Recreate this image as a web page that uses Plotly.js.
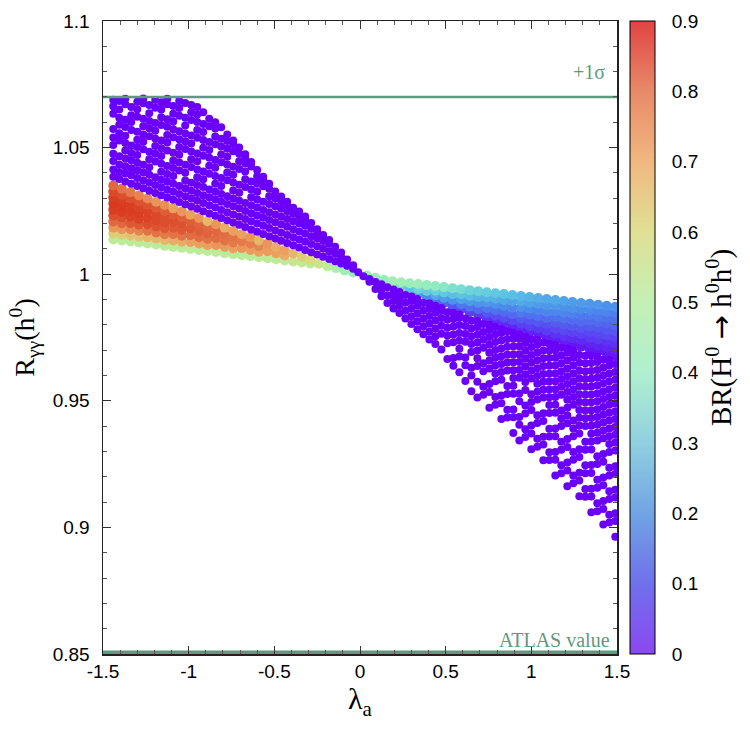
<!DOCTYPE html>
<html><head><meta charset="utf-8">
<script src="https://cdn.plot.ly/plotly-3.0.1.min.js"></script>
<style>html,body{margin:0;padding:0;background:#fff}#chart{width:750px;height:733px}</style>
</head><body><div id="chart"></div>
<script>
// ---------- axis ticks ----------
const xTickVals = [-1.5, -1, -0.5, 0, 0.5, 1, 1.5];
const xTickText = ['-1.5', '-1', '-0.5', '0', '0.5', '1', '1.5'];
const yTickVals = [0.85, 0.9, 0.95, 1, 1.05, 1.1];
const yTickText = ['0.85', '0.9', '0.95', '1', '1.05', '1.1'];
const cbTickVals = [0, 0.1, 0.2, 0.3, 0.4, 0.5, 0.6, 0.7, 0.8, 0.9];
const cbTickText = ['0', '0.1', '0.2', '0.3', '0.4', '0.5', '0.6', '0.7', '0.8', '0.9'];

// ---------- reference lines ----------
const refLevels = [1.07, 0.8506];
const refLabels = ['+1σ', 'ATLAS value'];

// ---------- coloured band, λa < 0 : [λa, [Rγγ...], [BR...]] ----------
const bandLeft = [
 [-1.44,[1.0137,1.0161,1.0184,1.0208,1.0232,1.0255,1.0279,1.0303,1.0326,1.0350],[0.52,0.62,0.72,0.8,0.85,0.88,0.89,0.88,0.86,0.8]],
 [-1.39,[1.0133,1.0156,1.0178,1.0201,1.0224,1.0246,1.0269,1.0292,1.0314,1.0337],[0.52,0.62,0.72,0.8,0.85,0.88,0.89,0.88,0.85,0.78]],
 [-1.34,[1.0129,1.0153,1.0178,1.0202,1.0227,1.0251,1.0275,1.0300,1.0324],[0.52,0.64,0.75,0.83,0.87,0.88,0.88,0.85,0.77]],
 [-1.29,[1.0125,1.0148,1.0172,1.0195,1.0218,1.0241,1.0265,1.0288,1.0311],[0.52,0.64,0.75,0.83,0.87,0.88,0.87,0.84,0.75]],
 [-1.24,[1.0121,1.0146,1.0172,1.0197,1.0222,1.0248,1.0273,1.0299],[0.52,0.66,0.78,0.85,0.87,0.87,0.84,0.74]],
 [-1.19,[1.0117,1.0141,1.0165,1.0189,1.0213,1.0238,1.0262,1.0286],[0.52,0.66,0.78,0.84,0.86,0.86,0.83,0.72]],
 [-1.14,[1.0112,1.0135,1.0158,1.0181,1.0204,1.0227,1.0250,1.0273],[0.52,0.66,0.77,0.83,0.85,0.85,0.82,0.73]],
 [-1.09,[1.0108,1.0133,1.0159,1.0184,1.0209,1.0235,1.0260],[0.52,0.68,0.78,0.83,0.85,0.83,0.7]],
 [-1.04,[1.0104,1.0128,1.0152,1.0176,1.0200,1.0224,1.0248],[0.52,0.68,0.78,0.83,0.84,0.82,0.72]],
 [-0.99,[1.0100,1.0127,1.0154,1.0181,1.0208,1.0235],[0.52,0.7,0.79,0.83,0.82,0.7]],
 [-0.94,[1.0096,1.0121,1.0146,1.0172,1.0197,1.0222],[0.52,0.7,0.79,0.82,0.81,0.72]],
 [-0.89,[1.0092,1.0115,1.0139,1.0162,1.0186,1.0209],[0.52,0.7,0.78,0.81,0.8,0.66]],
 [-0.84,[1.0088,1.0115,1.0142,1.0170,1.0197],[0.52,0.72,0.79,0.8,0.72]],
 [-0.79,[1.0083,1.0108,1.0133,1.0159,1.0184],[0.52,0.71,0.78,0.79,0.68]],
 [-0.74,[1.0079,1.0102,1.0125,1.0148,1.0171],[0.52,0.7,0.77,0.78,0.7]],
 [-0.69,[1.0075,1.0103,1.0130,1.0158],[0.52,0.72,0.77,0.7]],
 [-0.64,[1.0071,1.0096,1.0121,1.0146],[0.52,0.71,0.76,0.72]],
 [-0.59,[1.0067,1.0089,1.0111,1.0133],[0.52,0.7,0.75,0.66]],
 [-0.54,[1.0063,1.0091,1.0120],[0.53,0.71,0.72]],
 [-0.49,[1.0059,1.0083,1.0107],[0.52,0.7,0.68]],
 [-0.44,[1.0054,1.0074,1.0095],[0.52,0.68,0.7]],
 [-0.39,[1.0050,1.0082],[0.55,0.66]],
 [-0.34,[1.0046,1.0069],[0.53,0.62]],
 [-0.29,[1.0042,1.0056],[0.52,0.6]],
 [-0.24,[1.0041],[0.55]],
 [-0.19,[1.0032],[0.52]],
 [-0.14,[1.0024],[0.48]],
 [-0.09,[1.0015],[0.45]],
 [-0.04,[1.0007],[0.42]]
];

// ---------- coloured band, λa > 0 ----------
const bandRight = [
 [0.04,[0.9995],[0.42]],
 [0.09,[0.9986],[0.43]],
 [0.14,[0.9977],[0.42]],
 [0.19,[0.9965,0.9972],[0.36,0.45]],
 [0.24,[0.9951,0.9968],[0.33,0.45]],
 [0.29,[0.9937,0.9964],[0.3,0.44]],
 [0.34,[0.9924,0.9942,0.9961],[0.24,0.34,0.44]],
 [0.39,[0.9911,0.9934,0.9957],[0.2,0.32,0.42]],
 [0.44,[0.9899,0.9917,0.9935,0.9953],[0.16,0.25,0.33,0.41]],
 [0.49,[0.9886,0.9907,0.9928,0.9949],[0.14,0.23,0.31,0.39]],
 [0.54,[0.9874,0.9898,0.9921,0.9945],[0.12,0.21,0.29,0.37]],
 [0.59,[0.9862,0.9881,0.9901,0.9921,0.9941],[0.1,0.17,0.24,0.3,0.36]],
 [0.64,[0.9850,0.9872,0.9894,0.9915,0.9937],[0.09,0.16,0.23,0.29,0.34]],
 [0.69,[0.9838,0.9862,0.9886,0.9909,0.9933],[0.08,0.15,0.21,0.27,0.33]],
 [0.74,[0.9826,0.9847,0.9867,0.9888,0.9908,0.9929],[0.07,0.12,0.17,0.22,0.27,0.32]],
 [0.79,[0.9815,0.9837,0.9859,0.9881,0.9903,0.9925],[0.06,0.11,0.16,0.21,0.26,0.31]],
 [0.84,[0.9804,0.9828,0.9851,0.9875,0.9898,0.9922],[0.06,0.11,0.15,0.2,0.25,0.3]],
 [0.89,[0.9793,0.9818,0.9843,0.9868,0.9893,0.9918],[0.05,0.1,0.15,0.19,0.24,0.29]],
 [0.94,[0.9783,0.9804,0.9826,0.9848,0.9870,0.9892,0.9914],[0.05,0.09,0.13,0.17,0.21,0.25,0.28]],
 [0.99,[0.9772,0.9795,0.9818,0.9841,0.9864,0.9887,0.9910],[0.05,0.09,0.12,0.16,0.2,0.24,0.27]],
 [1.04,[0.9762,0.9786,0.9810,0.9834,0.9858,0.9882,0.9906],[0.04,0.08,0.12,0.16,0.19,0.23,0.26]],
 [1.09,[0.9752,0.9777,0.9802,0.9827,0.9852,0.9877,0.9902],[0.04,0.08,0.11,0.15,0.19,0.22,0.25]],
 [1.14,[0.9742,0.9764,0.9786,0.9809,0.9831,0.9853,0.9876,0.9898],[0.04,0.07,0.1,0.13,0.16,0.19,0.22,0.25]],
 [1.19,[0.9732,0.9755,0.9778,0.9801,0.9825,0.9848,0.9871,0.9894],[0.04,0.07,0.1,0.13,0.16,0.19,0.21,0.24]],
 [1.24,[0.9723,0.9747,0.9771,0.9795,0.9819,0.9843,0.9866,0.9890],[0.03,0.06,0.09,0.12,0.15,0.18,0.21,0.23]],
 [1.29,[0.9714,0.9739,0.9763,0.9788,0.9812,0.9837,0.9862,0.9886],[0.03,0.06,0.09,0.12,0.15,0.17,0.2,0.23]],
 [1.34,[0.9705,0.9727,0.9749,0.9772,0.9794,0.9816,0.9838,0.9860,0.9883],[0.03,0.05,0.08,0.1,0.13,0.15,0.17,0.2,0.22]],
 [1.39,[0.9696,0.9719,0.9742,0.9765,0.9788,0.9810,0.9833,0.9856,0.9879],[0.03,0.05,0.08,0.1,0.12,0.15,0.17,0.19,0.22]],
 [1.44,[0.9688,0.9711,0.9734,0.9758,0.9781,0.9805,0.9828,0.9851,0.9875],[0.03,0.05,0.07,0.1,0.12,0.14,0.16,0.19,0.21]],
 [1.49,[0.9679,0.9703,0.9727,0.9751,0.9775,0.9799,0.9823,0.9847,0.9871],[0.03,0.05,0.07,0.09,0.12,0.14,0.16,0.18,0.21]]
];

// ---------- purple points (BR ≈ 0) : [λa, [Rγγ...]] ----------
const purpleBR = 0;
const purpleLeft = [
 [-1.44,[1.0385,1.0414,1.0447,1.0476,1.0510,1.0540,1.0573,1.0634,1.0663,1.0689]],
 [-1.405,[1.0376,1.0404,1.0433,1.0466,1.0528,1.0557,1.0590,1.0618,1.0650,1.0684]],
 [-1.37,[1.0366,1.0398,1.0426,1.0457,1.0489,1.0518,1.0547,1.0581,1.0610,1.0671,1.0693]],
 [-1.335,[1.0357,1.0391,1.0418,1.0450,1.0479,1.0508,1.0570,1.0601,1.0628,1.0660]],
 [-1.30,[1.0348,1.0380,1.0411,1.0440,1.0471,1.0502,1.0531,1.0563,1.0622,1.0651,1.0681]],
 [-1.265,[1.0339,1.0370,1.0402,1.0432,1.0493,1.0523,1.0552,1.0584,1.0614,1.0675,1.0694]],
 [-1.23,[1.0330,1.0361,1.0393,1.0422,1.0454,1.0484,1.0545,1.0576,1.0605,1.0636,1.0668]],
 [-1.195,[1.0321,1.0352,1.0383,1.0445,1.0476,1.0506,1.0536,1.0567,1.0597,1.0657,1.0688]],
 [-1.16,[1.0312,1.0343,1.0373,1.0405,1.0436,1.0467,1.0497,1.0528,1.0589,1.0620,1.0650,1.0679]],
 [-1.125,[1.0303,1.0334,1.0365,1.0396,1.0427,1.0489,1.0520,1.0550,1.0582,1.0612,1.0671,1.0693]],
 [-1.09,[1.0294,1.0326,1.0357,1.0388,1.0419,1.0449,1.0480,1.0541,1.0572,1.0603,1.0634,1.0664]],
 [-1.055,[1.0285,1.0317,1.0348,1.0410,1.0441,1.0472,1.0502,1.0533,1.0565,1.0626,1.0656,1.0685]],
 [-1.02,[1.0276,1.0308,1.0339,1.0370,1.0401,1.0432,1.0494,1.0525,1.0556,1.0587,1.0618,1.0676]],
 [-0.985,[1.0267,1.0299,1.0330,1.0361,1.0423,1.0454,1.0485,1.0516,1.0548,1.0609,1.0640,1.0668]],
 [-0.95,[1.0258,1.0290,1.0321,1.0352,1.0383,1.0414,1.0446,1.0477,1.0539,1.0570,1.0601,1.0631,1.0660]],
 [-0.915,[1.0249,1.0281,1.0312,1.0344,1.0375,1.0406,1.0468,1.0499,1.0530,1.0562,1.0593,1.0640]],
 [-0.88,[1.0240,1.0272,1.0304,1.0335,1.0397,1.0428,1.0460,1.0491,1.0522,1.0584,1.0614]],
 [-0.845,[1.0231,1.0263,1.0295,1.0326,1.0357,1.0388,1.0420,1.0451,1.0513,1.0544,1.0575,1.0600]],
 [-0.81,[1.0222,1.0254,1.0286,1.0317,1.0348,1.0380,1.0442,1.0473,1.0504,1.0535,1.0580]],
 [-0.775,[1.0213,1.0245,1.0277,1.0308,1.0371,1.0402,1.0433,1.0464,1.0495,1.0526,1.0552]],
 [-0.74,[1.0204,1.0236,1.0268,1.0299,1.0331,1.0362,1.0393,1.0424,1.0486,1.0514,1.0528]],
 [-0.705,[1.0195,1.0227,1.0259,1.0290,1.0322,1.0353,1.0415,1.0446,1.0476,1.0500]],
 [-0.67,[1.0186,1.0218,1.0250,1.0281,1.0344,1.0375,1.0406,1.0437,1.0463,1.0474]],
 [-0.635,[1.0177,1.0209,1.0241,1.0272,1.0304,1.0335,1.0366,1.0425,1.0443]],
 [-0.60,[1.0168,1.0200,1.0232,1.0263,1.0295,1.0326,1.0357,1.0387,1.0412]],
 [-0.565,[1.0159,1.0191,1.0223,1.0254,1.0286,1.0347,1.0375,1.0385]],
 [-0.53,[1.0150,1.0182,1.0214,1.0245,1.0277,1.0308,1.0337,1.0357]],
 [-0.495,[1.0141,1.0173,1.0205,1.0236,1.0268,1.0299,1.0327]],
 [-0.46,[1.0132,1.0164,1.0196,1.0227,1.0258,1.0288,1.0307]],
 [-0.425,[1.0123,1.0155,1.0187,1.0218,1.0249,1.0276,1.0286]],
 [-0.39,[1.0114,1.0146,1.0178,1.0209,1.0239,1.0262]],
 [-0.355,[1.0105,1.0137,1.0169,1.0200,1.0229,1.0248]],
 [-0.32,[1.0096,1.0128,1.0160,1.0191,1.0218,1.0228]],
 [-0.285,[1.0087,1.0119,1.0150,1.0180,1.0202]],
 [-0.25,[1.0078,1.0110,1.0141,1.0168,1.0178]],
 [-0.215,[1.0069,1.0101,1.0131,1.0155]],
 [-0.18,[1.0060,1.0091,1.0120,1.0135]],
 [-0.145,[1.0051,1.0081,1.0108]],
 [-0.11,[1.0042,1.0068,1.0086]],
 [-0.075,[1.0033,1.0058]],
 [-0.04,[1.0022,1.0035]],
 [-0.01,[1.0008]]
];
const purpleRight = [
 [0.02,[0.9992]],
 [0.055,[0.9970,0.9981]],
 [0.09,[0.9942,0.9969]],
 [0.125,[0.9913,0.9937,0.9960]],
 [0.16,[0.9886,0.9917,0.9948]],
 [0.195,[0.9865,0.9894,0.9918,0.9940]],
 [0.23,[0.9847,0.9876,0.9905,0.9930]],
 [0.265,[0.9825,0.9856,0.9887,0.9918]],
 [0.30,[0.9803,0.9834,0.9865,0.9894,0.9912]],
 [0.335,[0.9783,0.9814,0.9845,0.9875,0.9902]],
 [0.37,[0.9763,0.9794,0.9825,0.9856,0.9886]],
 [0.405,[0.9742,0.9773,0.9804,0.9835,0.9865,0.9884]],
 [0.44,[0.9724,0.9755,0.9786,0.9817,0.9848,0.9875]],
 [0.475,[0.9703,0.9765,0.9796,0.9827,0.9857,0.9867]],
 [0.51,[0.9665,0.9727,0.9758,0.9789,0.9820,0.9850]],
 [0.545,[0.9638,0.9669,0.9731,0.9762,0.9793,0.9823,0.9848]],
 [0.58,[0.9613,0.9675,0.9706,0.9737,0.9768,0.9799,0.9829,0.9841]],
 [0.615,[0.9578,0.9640,0.9671,0.9733,0.9764,0.9795,0.9825]],
 [0.65,[0.9538,0.9600,0.9631,0.9693,0.9724,0.9755,0.9786,0.9816]],
 [0.685,[0.9513,0.9575,0.9637,0.9668,0.9699,0.9730,0.9761,0.9791,0.9815]],
 [0.72,[0.9524,0.9555,0.9617,0.9648,0.9710,0.9741,0.9772,0.9803]],
 [0.755,[0.9473,0.9535,0.9566,0.9628,0.9659,0.9690,0.9721,0.9752,0.9782,0.9800]],
 [0.79,[0.9484,0.9515,0.9577,0.9608,0.9639,0.9670,0.9701,0.9732,0.9763,0.9791]],
 [0.825,[0.9428,0.9490,0.9521,0.9583,0.9614,0.9645,0.9676,0.9707,0.9738,0.9768,0.9784]],
 [0.86,[0.9434,0.9465,0.9527,0.9558,0.9620,0.9651,0.9682,0.9713,0.9744,0.9775]],
 [0.895,[0.9373,0.9435,0.9466,0.9528,0.9559,0.9590,0.9621,0.9652,0.9683,0.9714,0.9745,0.9769]],
 [0.93,[0.9343,0.9405,0.9436,0.9498,0.9529,0.9591,0.9622,0.9653,0.9684,0.9715,0.9745,0.9762]],
 [0.965,[0.9357,0.9388,0.9450,0.9481,0.9543,0.9574,0.9605,0.9636,0.9667,0.9698,0.9728,0.9754]],
 [1.0,[0.9309,0.9371,0.9402,0.9464,0.9495,0.9526,0.9588,0.9619,0.9650,0.9681,0.9712,0.9742]],
 [1.035,[0.9319,0.9350,0.9412,0.9443,0.9505,0.9536,0.9567,0.9598,0.9629,0.9660,0.9691,0.9721,0.9740]],
 [1.07,[0.9265,0.9327,0.9358,0.9420,0.9451,0.9513,0.9544,0.9575,0.9606,0.9637,0.9668,0.9699,0.9730]],
 [1.105,[0.9266,0.9297,0.9359,0.9390,0.9452,0.9483,0.9514,0.9545,0.9576,0.9607,0.9638,0.9669,0.9699,0.9725]],
 [1.14,[0.9205,0.9267,0.9298,0.9360,0.9391,0.9453,0.9484,0.9515,0.9546,0.9577,0.9608,0.9639,0.9670,0.9700,0.9719]],
 [1.175,[0.9214,0.9245,0.9307,0.9338,0.9400,0.9431,0.9462,0.9524,0.9555,0.9586,0.9617,0.9648,0.9679,0.9710]],
 [1.21,[0.9163,0.9225,0.9256,0.9318,0.9349,0.9411,0.9442,0.9473,0.9504,0.9535,0.9566,0.9597,0.9628,0.9659,0.9690,0.9706]],
 [1.245,[0.9174,0.9205,0.9267,0.9298,0.9360,0.9391,0.9422,0.9484,0.9515,0.9546,0.9577,0.9608,0.9639,0.9670,0.9699]],
 [1.28,[0.9123,0.9185,0.9216,0.9278,0.9309,0.9371,0.9402,0.9433,0.9464,0.9495,0.9526,0.9557,0.9588,0.9619,0.9650,0.9681]],
 [1.315,[0.9121,0.9152,0.9214,0.9245,0.9307,0.9338,0.9400,0.9431,0.9462,0.9493,0.9524,0.9555,0.9586,0.9617,0.9648,0.9678]],
 [1.35,[0.9060,0.9122,0.9153,0.9215,0.9246,0.9308,0.9339,0.9370,0.9401,0.9432,0.9463,0.9494,0.9525,0.9556,0.9587,0.9618,0.9649,0.9679]],
 [1.385,[0.9064,0.9095,0.9157,0.9188,0.9250,0.9281,0.9343,0.9374,0.9405,0.9436,0.9467,0.9498,0.9529,0.9560,0.9591,0.9622,0.9653,0.9674]],
 [1.42,[0.9011,0.9073,0.9104,0.9166,0.9197,0.9259,0.9290,0.9352,0.9383,0.9414,0.9445,0.9476,0.9507,0.9538,0.9569,0.9600,0.9631,0.9662]],
 [1.455,[0.9019,0.9050,0.9112,0.9143,0.9205,0.9236,0.9298,0.9329,0.9360,0.9391,0.9422,0.9453,0.9484,0.9515,0.9546,0.9577,0.9608,0.9639,0.9662]],
 [1.49,[0.8963,0.9025,0.9056,0.9118,0.9149,0.9211,0.9242,0.9304,0.9335,0.9366,0.9397,0.9428,0.9459,0.9490,0.9521,0.9552,0.9583,0.9614,0.9645]]
];

// ---------- styles ----------
const serif = '"Liberation Serif", "Times New Roman", serif';
const sans = '"Liberation Sans", Arial, Helvetica, sans-serif';
const green = '#5b9b7d';
const pointScale = [[0,'#6a00f8'],[0.111,'#5848f2'],[0.222,'#4a8cec'],[0.333,'#5cc4e4'],[0.444,'#8cecc4'],[0.556,'#b4f0a0'],[0.667,'#dcd87c'],[0.778,'#eca060'],[0.889,'#e06840'],[1,'#d83418']];
const barScale = [[0,'#8a48f0'],[0.111,'#7070ec'],[0.222,'#70a4e4'],[0.333,'#90d0e0'],[0.444,'#b0f0d0'],[0.556,'#c4f0b4'],[0.667,'#e0e094'],[0.778,'#f0b880'],[0.889,'#e88a68'],[1,'#e04444']];
const cbMax = 0.9;

function flatten(cols) {
  const x = [], y = [], c = [];
  cols.forEach(col => {
    const lx = col[0], ys = col[1], cs = col[2];
    ys.forEach((v, i) => { x.push(lx); y.push(v); c.push(cs ? cs[i] : purpleBR); });
  });
  return {x, y, c};
}
function pointTrace(cols, size) {
  const d = flatten(cols);
  return {type:'scatter', mode:'markers', x:d.x, y:d.y, hoverinfo:'skip', showlegend:false,
    marker:{size:size, color:d.c, cmin:0, cmax:cbMax, colorscale:pointScale, showscale:false, line:{width:0}}};
}
const cbTrace = {type:'scatter', mode:'markers', x:[null], y:[null], hoverinfo:'skip', showlegend:false,
  marker:{color:[0], cmin:0, cmax:cbMax, colorscale:barScale, showscale:true,
    colorbar:{x:1.0246, xanchor:'left', xpad:0, ypad:0, y:0.5, yanchor:'middle', len:1, lenmode:'fraction',
      thickness:25, thicknessmode:'pixels', outlinewidth:1, outlinecolor:'#000',
      tickvals:cbTickVals, ticktext:cbTickText, ticks:'outside', ticklen:13, tickcolor:'rgba(0,0,0,0)',
      tickfont:{family:sans, size:19, color:'#000'},
      title:{text:'BR(H<sup>0</sup> <span style="font-family:\'DejaVu Sans\'">→</span> h<sup>0</sup>h<sup>0</sup>)', side:'right',
        font:{family:serif, size:29, color:'#000'}}}}};

const lineTraces = refLevels.map(v => ({type:'scatter', mode:'lines', x:[-1.5, 1.5], y:[v, v], hoverinfo:'skip',
  showlegend:false, line:{color:green, width:v > 1 ? 2.5 : 4}}));

const data = [pointTrace(bandLeft, 10), pointTrace(bandRight, 10), pointTrace(purpleLeft, 8), pointTrace(purpleRight, 8)]
  .concat(lineTraces, [cbTrace]);

const axisCommon = {showgrid:false, zeroline:false, showline:true, linecolor:'#222', linewidth:1.5, mirror:'ticks',
  ticks:'inside', ticklen:8, tickwidth:1, tickcolor:'#333', tickfont:{family:sans, size:19, color:'#000'}};
const layout = {
  width:750, height:733, margin:{l:103, r:130, t:21, b:79},
  paper_bgcolor:'#fff', plot_bgcolor:'#fff', showlegend:false,
  xaxis:Object.assign({}, axisCommon, {range:[-1.5, 1.5], tickmode:'array', tickvals:xTickVals, ticktext:xTickText,
    minor:{dtick:0.1, ticks:'inside', ticklen:4, tickcolor:'#555'}, ticklabelstandoff:0,
    title:{text:'λ<sub>a</sub>', font:{family:serif, size:30, color:'#000'}, standoff:0}}),
  yaxis:Object.assign({}, axisCommon, {range:[0.85, 1.1], tickmode:'array', tickvals:yTickVals, ticktext:yTickText,
    minor:{dtick:0.01, ticks:'inside', ticklen:4, tickcolor:'#555'}, ticklabelstandoff:8,
    title:{text:'R<sub>γγ</sub>(h<sup>0</sup>)', font:{family:serif, size:28, color:'#000'}, standoff:10}}),
  annotations:[
    {x:1.443, y:refLevels[0], yshift:25, xref:'x', yref:'y', text:refLabels[0], showarrow:false, xanchor:'right', yanchor:'middle',
     font:{family:serif, size:20, color:green}},
    {x:1.472, y:refLevels[1], yshift:12, xref:'x', yref:'y', text:refLabels[1], showarrow:false, xanchor:'right', yanchor:'middle',
     font:{family:serif, size:20, color:green}}
  ]
};
Plotly.newPlot('chart', data, layout, {displayModeBar:false, staticPlot:true});
</script></body></html>
